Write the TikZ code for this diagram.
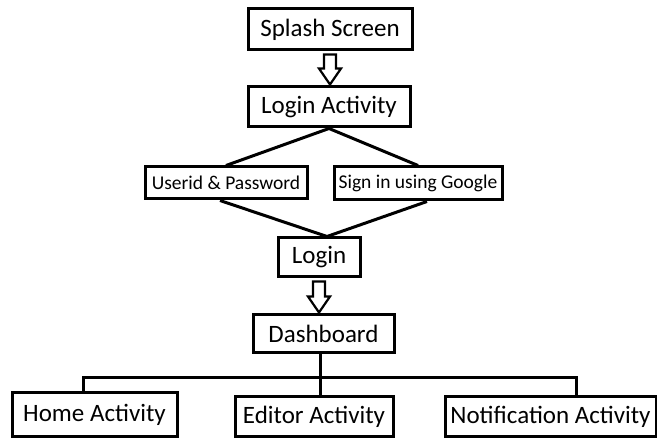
\documentclass[tikz,border=0pt]{standalone}
\usepackage{fontspec}
\setmainfont{Carlito}
\usetikzlibrary{calc}

\tikzset{
  box/.style={draw,line width=3pt,inner sep=0pt,align=center,font=\fontsize{25}{28}\selectfont},
  smallbox/.style={box,font=\fontsize{19.5}{22}\selectfont},
  link/.style={line width=3pt},
  hollow/.style={line width=2.2pt,line join=miter},
}

% hollow block arrow from the bottom of #1 to the top of #2
\newcommand{\hollowdown}[2]{%
  \draw[hollow] let \p1=(#1.south), \p2=(#2.north) in
    (\x1-6,\y1-3) -- (\x1+6,\y1-3) -- (\x1+6,\y2+17) -- (\x1+11,\y2+17)
    -- (\x1,\y2+1) -- (\x1-11,\y2+17) -- (\x1-6,\y2+17) -- cycle;}

\begin{document}
\begin{tikzpicture}[x=1pt,y=-1pt]
  \useasboundingbox (0,0) rectangle (657,438);

  \node[box,minimum width=164pt,minimum height=41pt] (splash) at (330,29.5) {Splash Screen};
  \node[box,minimum width=162pt,minimum height=40pt] (lact) at (329,107) {Login Activity};
  \node[smallbox,minimum width=162pt,minimum height=32pt] (uid) at (226,183) {Userid \& Password};
  \node[smallbox,minimum width=168pt,minimum height=33pt] (goog) at (418,183.5) {Sign in using Google};
  \node[box,minimum width=82pt,minimum height=39pt] (login) at (319,257.5) {Login};
  \node[box,minimum width=141pt,minimum height=38pt] (dash) at (323.5,334) {Dashboard};
  \node[box,minimum width=165pt,minimum height=44pt] (home) at (94.5,415) {Home Activity};
  \node[box,minimum width=158pt,minimum height=40pt] (edit) at (314,417) {Editor Activity};
  \node[box,minimum width=211pt,minimum height=40pt] (note) at (550.5,417) {Notification Activity};

  \hollowdown{splash}{lact}
  \hollowdown{login}{dash}

  \draw[link] (uid.north) -- (lact.south) -- (goog.north);
  \draw[link] ([xshift=-6pt]uid.south) -- ([xshift=8pt]login.north) -- ([xshift=9pt]goog.south);

  \coordinate (busL) at (83,378);
  \coordinate (busR) at (576,378);
  \draw[link] ([xshift=-3.5pt]dash.south) -- ([xshift=-3.5pt]dash.south |- edit.north);
  \draw[link] (busL |- home.north) -- (busL) -- (busR) -- (busR |- note.north);
\end{tikzpicture}
\end{document}
